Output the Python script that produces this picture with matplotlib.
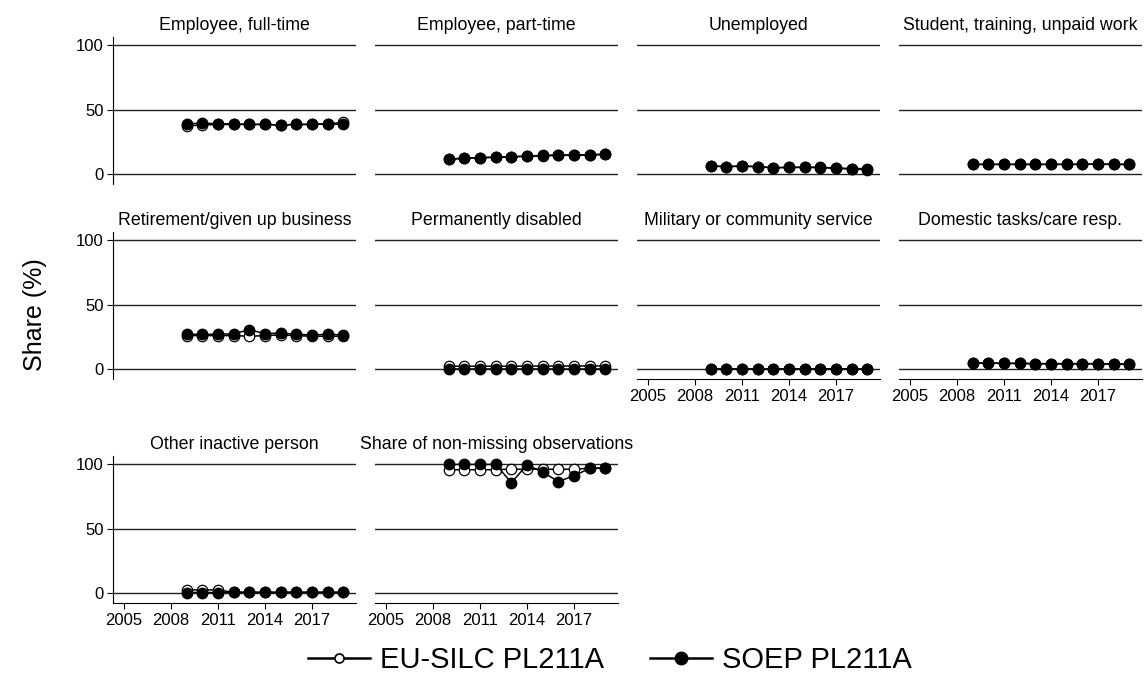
import matplotlib
matplotlib.use("Agg")
import matplotlib.pyplot as plt
from matplotlib.lines import Line2D

plt.rcParams['font.family'] = ['Liberation Sans', 'DejaVu Sans']

years = list(range(2009, 2020))

panel_titles = [
    "Employee, full-time", "Employee, part-time", "Unemployed",
    "Student, training, unpaid work",
    "Retirement/given up business", "Permanently disabled",
    "Military or community service", "Domestic tasks/care resp.",
    "Other inactive person", "Share of non-missing observations",
]

eusilc = [
    [37.5, 38.0, 38.5, 38.5, 38.5, 38.5, 38.0, 38.5, 38.5, 39.0, 40.0],
    [11.5, 12.4, 12.7, 13.1, 13.4, 13.9, 14.3, 14.6, 14.7, 14.9, 15.3],
    [6.4, 5.9, 6.3, 5.8, 5.0, 5.3, 5.3, 5.2, 4.6, 4.0, 3.5],
    [7.6, 7.6, 7.6, 7.6, 7.6, 7.6, 7.6, 7.7, 7.8, 7.6, 7.6],
    [26.0, 26.0, 26.0, 26.0, 25.5, 26.0, 26.5, 26.0, 25.5, 25.5, 25.5],
    [2.3, 2.4, 2.4, 2.4, 2.4, 2.5, 2.5, 2.5, 2.6, 2.6, 2.6],
    [0.4, 0.4, 0.4, 0.4, 0.4, 0.4, 0.4, 0.4, 0.4, 0.4, 0.4],
    [4.8, 4.8, 4.5, 4.5, 4.3, 4.2, 4.2, 4.2, 4.2, 4.0, 3.9],
    [2.6, 2.6, 2.6, 0.7, 0.7, 0.7, 0.7, 0.7, 0.7, 0.7, 0.7],
    [95.4, 95.4, 95.4, 95.4, 95.9, 95.6, 95.9, 95.6, 95.9, 96.4, 96.9],
]

soep = [
    [39.0, 39.5, 39.0, 39.0, 38.5, 38.5, 38.0, 38.5, 38.5, 39.0, 38.5],
    [11.6, 12.6, 12.8, 13.3, 13.6, 14.1, 14.6, 14.9, 14.9, 15.1, 15.6],
    [6.4, 5.9, 6.4, 5.9, 5.1, 5.4, 5.4, 5.4, 4.9, 4.4, 4.4],
    [7.7, 7.7, 7.7, 7.7, 7.7, 7.7, 7.7, 7.7, 7.9, 7.7, 7.7],
    [27.0, 27.0, 27.0, 27.5, 30.5, 27.5, 28.0, 27.0, 26.5, 27.0, 26.5],
    [0.6, 0.6, 0.6, 0.6, 0.6, 0.6, 0.6, 0.6, 0.6, 0.6, 0.6],
    [0.3, 0.3, 0.3, 0.3, 0.3, 0.3, 0.3, 0.3, 0.3, 0.3, 0.3],
    [4.9, 4.9, 4.6, 4.6, 4.4, 4.4, 4.4, 4.4, 4.4, 4.1, 4.1],
    [0.6, 0.6, 0.6, 0.8, 0.8, 0.8, 0.8, 0.8, 0.8, 0.8, 0.8],
    [99.5, 99.5, 99.5, 99.5, 85.4, 99.2, 93.6, 86.2, 90.8, 96.4, 96.7],
]

x_ticks = [2005, 2008, 2011, 2014, 2017]
y_ticks = [0, 50, 100]

W, H = 1148, 691
fig = plt.figure(figsize=(W / 100, H / 100), dpi=100)

col_left = [113, 375, 637, 899]
col_width = 243
row_top = [37, 232, 456]
row_height = 147

for i, title in enumerate(panel_titles):
    r, c = divmod(i, 4)
    left, top = col_left[c], row_top[r]
    ax = fig.add_axes([left / W, 1 - (top + row_height) / H,
                       col_width / W, row_height / H])
    ax.set_xlim(2004.3, 2019.8)
    ax.set_ylim(-7.5, 106)
    for yv in y_ticks:
        ax.axhline(yv, color='#222222', lw=1.0, zorder=1)
    ax.plot(years, eusilc[i], color='black', lw=1.1, marker='o', ms=7.5,
            mfc='white', mec='black', mew=0.9, zorder=3)
    ax.plot(years, soep[i], color='black', lw=1.1, marker='o', ms=7.5,
            mfc='black', mec='black', zorder=4)
    ax.set_title(title, fontsize=12.8, pad=5)
    for s in ['top', 'right']:
        ax.spines[s].set_visible(False)
    first_col = (c == 0)
    bottom_row = (r == 2) or (r == 1 and c >= 2)
    ax.spines['left'].set_visible(first_col)
    ax.spines['bottom'].set_visible(bottom_row)
    ax.set_yticks(y_ticks)
    ax.set_xticks(x_ticks)
    ax.tick_params(axis='y', left=first_col, labelleft=first_col,
                   labelsize=12, length=4.5, pad=2)
    ax.tick_params(axis='x', bottom=bottom_row, labelbottom=bottom_row,
                   labelsize=12, length=4, pad=3)
    ax.set_facecolor('none')

fig.text(35 / W, 1 - 315 / H, "Share (%)", rotation=90, fontsize=18,
         ha='center', va='center')

handles = [
    Line2D([], [], color='black', lw=1.8, marker='o', ms=6.5, mfc='white',
           mec='black', mew=1.2, label='EU-SILC PL211A'),
    Line2D([], [], color='black', lw=1.8, marker='o', ms=9, mfc='black',
           mec='black', label='SOEP PL211A'),
]
fig.legend(handles=handles, loc='center', bbox_to_anchor=(610 / W, 1 - 660 / H),
           ncol=2, frameon=False, fontsize=21, handlelength=2.1,
           columnspacing=1.6, handletextpad=0.35)

fig.savefig('out.png', dpi=100, facecolor='white')
